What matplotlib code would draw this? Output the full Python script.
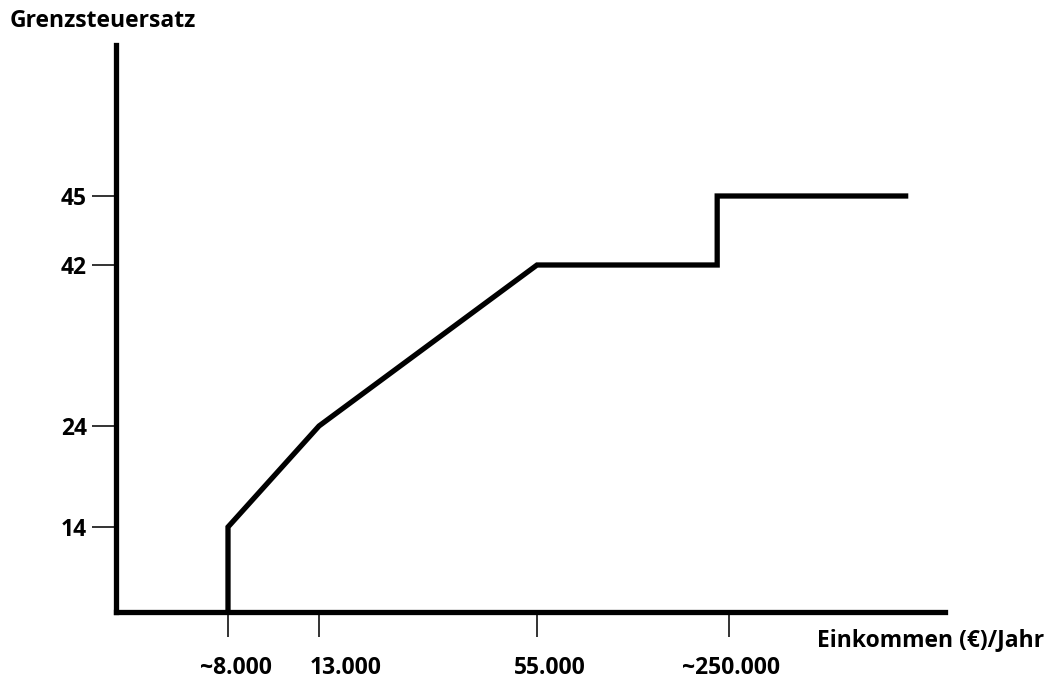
import numpy as np
import matplotlib
matplotlib.use("Agg")
import matplotlib.pyplot as plt
from matplotlib import transforms

# ---- data ----
income = [8000, 8000, 13000, 55000, 238000, 238000, 333000]   # €/Jahr
rate = [0, 14, 24, 42, 42, 45, 45]                              # Grenzsteuersatz %
x_tick_values = [8000, 13000, 55000, 250000]
x_tick_labels = ["~8.000", "13.000", "55.000", "~250.000"]
y_tick_values = [14, 24, 42, 45]
y_tick_labels = ["14", "24", "42", "45"]

# ---- schematic (piecewise-linear) scales ----
x_anchor_val = np.array([0, 8000, 13000, 55000, 250000, 350000], float)
x_anchor_pos = np.array([0, 112, 203, 421, 613, 829], float)
y_anchor_val = np.array([0, 14, 24, 42, 45, 55], float)
y_anchor_pos = np.array([0, 85, 186, 347, 416, 567], float)

def fx(v):
    return np.interp(v, x_anchor_val, x_anchor_pos, left=-1e9, right=1e9)
def ix(p):
    return np.interp(p, x_anchor_pos, x_anchor_val)
def fy(v):
    return np.interp(v, y_anchor_val, y_anchor_pos, left=-1e9, right=1e9)
def iy(p):
    return np.interp(p, y_anchor_pos, y_anchor_val)

W, H = 1061, 678
fig = plt.figure(figsize=(W / 100, H / 100), dpi=100)
ax = fig.add_axes([116 / W, 1 - 612 / H, (945 - 116) / W, (612 - 45) / H])
ax.set_xscale("function", functions=(fx, ix))
ax.set_yscale("function", functions=(fy, iy))
ax.set_xlim(0, 350000)
ax.set_ylim(0, 55)

ax.plot(income, rate, color="black", lw=3.8, solid_joinstyle="miter",
        solid_capstyle="butt", clip_on=False, zorder=3)

for s in ["top", "right"]:
    ax.spines[s].set_visible(False)
for s in ["left", "bottom"]:
    ax.spines[s].set_linewidth(3.8)
    ax.spines[s].set_capstyle("projecting")

font = "Open Sans"
fs = 16.5
ax.set_yticks(y_tick_values)
ax.set_yticklabels(y_tick_labels, fontsize=fs, fontweight="bold", family=font)
ax.tick_params(axis="y", length=17, width=1.4, color="#333333", pad=4)
ax.yaxis.set_minor_locator(matplotlib.ticker.NullLocator())
ax.xaxis.set_minor_locator(matplotlib.ticker.NullLocator())

ax.set_xticks(x_tick_values)
ax.set_xticklabels([""] * len(x_tick_values))
ax.tick_params(axis="x", length=18, width=1.4, color="#333333")

x_label_shift_px = [8, 27, 13, 2]
trans = transforms.blended_transform_factory(ax.transData, ax.transAxes)
for v, lab, dx in zip(x_tick_values, x_tick_labels, x_label_shift_px):
    t = trans + transforms.ScaledTranslation(dx / 100, -56 / 100, fig.dpi_scale_trans)
    ax.text(v, 0, lab, transform=t, ha="center", va="center",
            fontsize=fs, fontweight="bold", family=font)

fig.text(10 / W, 1 - 21 / H, "Grenzsteuersatz", ha="left", va="center",
         fontsize=fs, fontweight="bold", family=font)
fig.text(817 / W, 1 - 640 / H, "Einkommen (€)/Jahr", ha="left", va="center",
         fontsize=fs, fontweight="bold", family=font)

fig.savefig("out.png", dpi=100)
